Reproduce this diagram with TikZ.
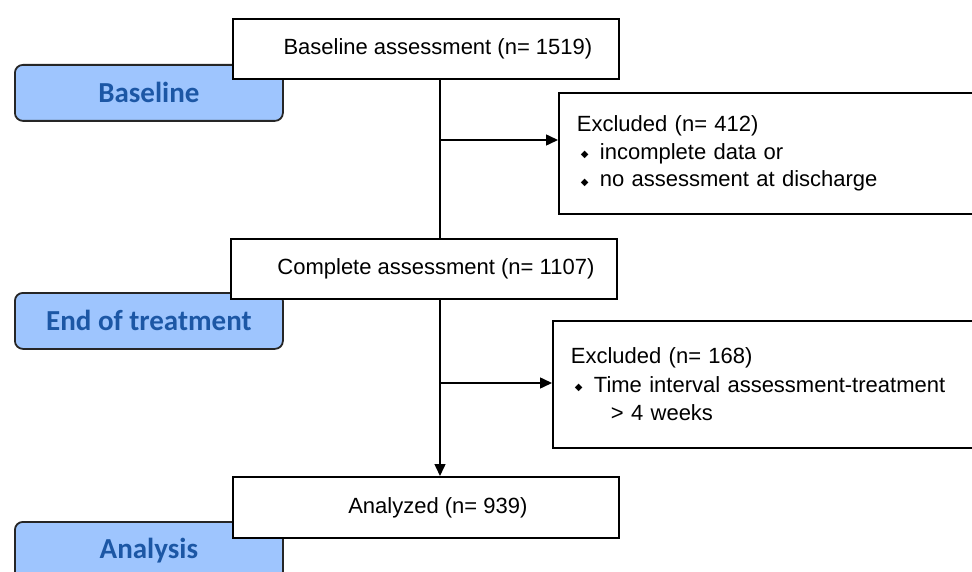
\documentclass[tikz,border=0pt]{standalone}
\usepackage{fontspec}
\setmainfont{Liberation Sans}
\newfontfamily\labelfont{Carlito}
\newfontfamily\symfont{DejaVu Sans}
\usetikzlibrary{arrows.meta,calc}
\definecolor{stageblue}{HTML}{9EC5FE}
\definecolor{stagetext}{HTML}{1C57A5}
\newcommand{\bmark}{\makebox[0pt][l]{\hspace*{4pt}\raisebox{1.5pt}{\fontsize{10}{10}\symfont ◆}}\hspace*{23pt}}
\tikzset{
  stage/.style={draw=black!85, line width=1.8pt, fill=stageblue, rounded corners=8pt,
    minimum width=268pt, minimum height=56pt, anchor=north west,
    font=\labelfont\bfseries\fontsize{29}{32}\selectfont, text=stagetext, inner sep=0pt},
  flowbox/.style={draw=black, line width=1.8pt, fill=white, anchor=north west,
    minimum width=386pt, minimum height=60pt, inner sep=0pt,
    execute at begin node={\hspace*{24pt}},
    font=\fontsize{22}{24}\selectfont},
  exbox/.style={draw=black, line width=1.8pt, fill=white, anchor=north west,
    align=left, inner xsep=18pt, inner ysep=0pt,
    font=\fontsize{22}{27.5}\selectfont},
  conn/.style={line width=1.5pt, draw=black},
  arr/.style={conn, -{Triangle[length=12pt,width=11pt]}}
}
\begin{document}
\begin{tikzpicture}[x=1pt,y=-1pt]
\useasboundingbox (0,0) rectangle (972,572);
\clip (0,0) rectangle (972,572);
% stage labels
\node[stage] (sbase) at (14,64) {Baseline};
\node[stage] (send) at (14,292) {End of treatment};
\node[stage, minimum height=58pt] (sana) at (14,521) {Analysis};
% main boxes
\node[flowbox] (base) at (232,18) {Baseline assessment (n= 1519)};
\node[flowbox] (comp) at (230,238) {Complete assessment (n= 1107)};
\node[flowbox, minimum height=61pt] (ana) at (232,476) {Analyzed (n= 939)};
% excluded boxes
\node[exbox, text width=400pt, minimum height=121pt] (ex1) at (558,92)
  {Excluded (n= 412)\\ \bmark incomplete data or\\ \bmark no assessment at discharge};
\node[exbox, text width=400pt, minimum height=127pt, font=\fontsize{22}{28.5}\selectfont] (ex2) at (552,320)
  {Excluded (n= 168)\\ \bmark Time interval assessment-treatment\\ \hspace*{40pt}> 4 weeks};
% connectors
\coordinate (vx) at (440,0);
\coordinate (j1) at (440,140);
\coordinate (j2) at (440,383);
\draw[conn] (base.south -| vx) -- (comp.north -| vx);
\draw[arr] (j1) -- (j1 -| ex1.west);
\draw[arr] (comp.south -| vx) -- (ana.north -| vx);
\draw[arr] (j2) -- (j2 -| ex2.west);
\end{tikzpicture}
\end{document}
